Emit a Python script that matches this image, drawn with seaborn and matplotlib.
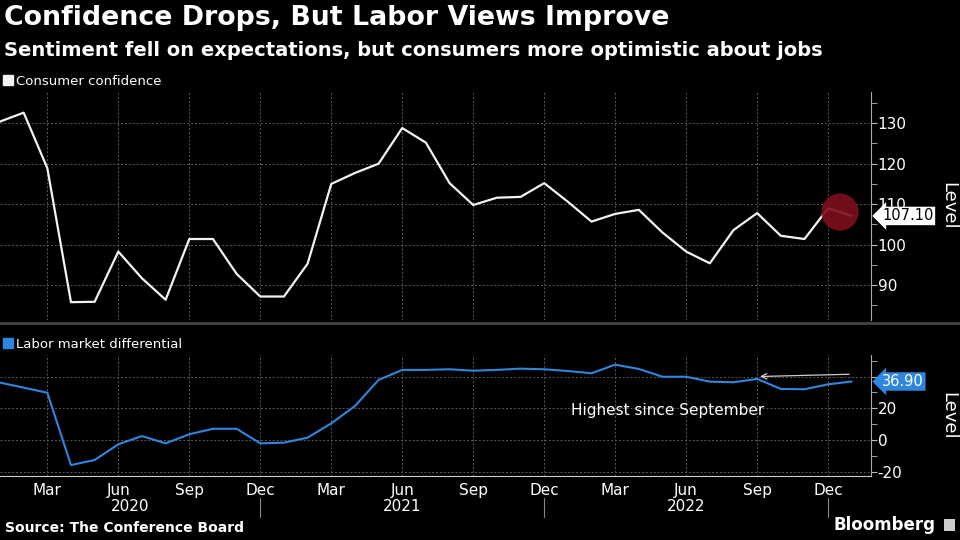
import matplotlib.pyplot as plt
import matplotlib.transforms as mtransforms
from matplotlib.lines import Line2D
from matplotlib.patches import Rectangle
import numpy as np
import pandas as pd
import seaborn as sns

#%% data (monthly, Jan 2020 - Jan 2023)
months = pd.date_range('2020-01-01', '2023-01-01', freq='MS')
confidence = [130.4, 132.6, 118.9, 85.8, 85.9, 98.3, 91.7, 86.4, 101.4, 101.4, 92.8, 87.2,
              87.2, 95.3, 115.0, 117.7, 120.0, 128.8, 125.2, 115.2, 109.8, 111.6, 111.8, 115.2,
              110.6, 105.7, 107.6, 108.6, 103.0, 98.3, 95.4, 103.6, 107.8, 102.2, 101.4, 109.0,
              107.1]
labor_diff = [36.2, 33.0, 29.8, -15.8, -12.6, -2.7, 2.5, -2.1, 3.6, 7.1, 7.1, -2.1,
              -1.7, 1.5, 10.5, 21.4, 37.9, 44.2, 44.2, 44.6, 43.7, 44.2, 45.0, 44.6,
              43.5, 42.1, 47.5, 44.8, 39.9, 39.9, 36.8, 36.4, 38.5, 32.2, 32.0, 35.1,
              36.9]
month_labels = ['Mar', 'Jun', 'Sep', 'Dec']
year_labels = ['2020', '2021', '2022']

df = pd.DataFrame({'month': months, 'confidence': confidence, 'labor': labor_diff})
df['idx'] = np.arange(len(df))

#%% style
sns.set_style('dark', rc={'axes.facecolor': 'black', 'figure.facecolor': 'black',
                          'axes.edgecolor': '#999999', 'text.color': 'white',
                          'xtick.color': '#bbbbbb', 'ytick.color': '#bbbbbb'})
plt.rcParams['font.family'] = ['DejaVu Sans']

white = '#f2f2f2'
blue = '#2e86de'
grid_kw = dict(color='#5a5a5a', linestyle=(0, (2, 2)), linewidth=0.7)

fig = plt.figure(figsize=(9.6, 5.4), dpi=100)
ax1 = fig.add_axes([0, 0.4074, 0.907, 0.4222])
ax2 = fig.add_axes([0, 0.1185, 0.907, 0.2241], sharex=ax1)

sns.lineplot(data=df, x='idx', y='confidence', ax=ax1, color=white, linewidth=1.6)
sns.lineplot(data=df, x='idx', y='labor', ax=ax2, color=blue, linewidth=1.5)

for ax in (ax1, ax2):
    ax.set_xlim(0, 36.8)
    for s in ('top', 'left', 'bottom'):
        ax.spines[s].set_visible(False)
    ax.spines['right'].set_visible(True)
    ax.spines['right'].set_color('#aaaaaa')
    ax.yaxis.tick_right()
    ax.yaxis.set_label_position('right')
    ax.tick_params(axis='y', which='both', direction='out', length=4, colors='#bbbbbb',
                   labelcolor='white', labelsize=11, pad=1)
    ax.set_xlabel('')
    ax.set_ylabel('Level', rotation=270, fontsize=13, color='white', va='center')
    ax.yaxis.set_label_coords(1.089, 0.5)
    ax.set_xticks(np.arange(2, len(df), 3))
    ax.set_xticks(np.arange(0, len(df)), minor=True)
    ax.grid(True, axis='both', which='major', **grid_kw)

ax1.set_ylim(81.4, 137.7)
ax1.set_yticks([90, 100, 110, 120, 130])
ax1.set_yticks(np.arange(85, 140, 5), minor=True)
ax1.tick_params(axis='x', which='both', length=0, labelbottom=False)

ax2.set_ylim(-22.7, 53.6)
# the 40 label sits under the last-value tag in the original, so it stays blank
ax2.set_yticks([-20, 0, 20, 40], labels=['-20', '0', '20', ''])
ax2.set_yticks(np.arange(-20, 60, 10), minor=True)
ax2.spines['bottom'].set_visible(True)
ax2.spines['bottom'].set_color('#cccccc')
ax2.set_xticklabels([month_labels[i % 4] for i in range(12)])
ax2.tick_params(axis='x', which='both', direction='in', length=4, colors='#bbbbbb',
                labelcolor='white', labelsize=11, pad=5)

# year labels and separators under the month labels
trans = mtransforms.blended_transform_factory(ax2.transData, ax2.transAxes)
for pos, yr in zip([5.5, 17, 29], year_labels):
    ax2.text(pos, -0.19, yr, transform=trans, ha='center', va='top', fontsize=11, color='white')
for pos in [11, 23, 35]:
    ax2.plot([pos, pos], [-0.18, -0.34], transform=trans, color='#888888', lw=0.8, clip_on=False)

# highlight on the latest move
ax1.scatter([np.mean(df['idx'].iloc[-2:])], [np.mean(df['confidence'].iloc[-2:])], s=720,
            color='#7e0e1d', alpha=0.9, zorder=4, edgecolors='none')

# last value tags
t1 = mtransforms.blended_transform_factory(ax1.transAxes, ax1.transData)
ax1.text(1.013, confidence[-1], f'{confidence[-1]:.2f}', transform=t1, ha='left', va='center',
         fontsize=10.5, color='black', zorder=5,
         bbox=dict(boxstyle='larrow,pad=0.12', fc='white', ec='none'))
t2 = mtransforms.blended_transform_factory(ax2.transAxes, ax2.transData)
ax2.text(1.013, labor_diff[-1], f'{labor_diff[-1]:.2f}', transform=t2, ha='left', va='center',
         fontsize=10.5, color='white', zorder=5,
         bbox=dict(boxstyle='larrow,pad=0.12', fc=blue, ec='none'))

# annotation
ax2.annotate('', xy=(32, labor_diff[32] + 1.5), xytext=(36, labor_diff[-1] + 4.6),
             arrowprops=dict(arrowstyle='->', color='#cccccc', lw=0.9))
ax2.text(28.2, 18.3, 'Highest since September', ha='center', va='center', fontsize=11, color='white')

# series keys
for ax, col, lab in ((ax1, white, 'Consumer confidence'), (ax2, blue, 'Labor market differential')):
    ax.legend(handles=[Line2D([], [], marker='s', color=col, ls='none', markersize=6.5)],
              labels=[lab], loc='lower left', bbox_to_anchor=(0.0, 1.0),
              frameon=False, handlelength=0.6, handletextpad=0.3, borderaxespad=0.1,
              borderpad=0.2, prop={'size': 9.5}, labelcolor='white')

# panel divider
fig.add_artist(Line2D([0, 1], [1 - 323 / 540] * 2, color='#444444', lw=2))

# titles and footer
fig.text(0.004, 0.99, 'Confidence Drops, But Labor Views Improve', ha='left', va='top',
         fontsize=19.3, fontweight='bold', color='white')
fig.text(0.004, 0.925, 'Sentiment fell on expectations, but consumers more optimistic about jobs',
         ha='left', va='top', fontsize=14.0, fontweight='bold', color='white')
fig.text(0.005, 0.022, 'Source: The Conference Board', ha='left', va='center',
         fontsize=10, fontweight='bold', color='white')
fig.text(0.974, 0.027, 'Bloomberg', ha='right', va='center',
         fontsize=12, fontweight='bold', color='white')
fig.add_artist(Rectangle((0.983, 0.016), 0.012, 0.022, transform=fig.transFigure,
                         color='#cccccc', lw=0))

fig.savefig('out.png', dpi=100, facecolor='black')
